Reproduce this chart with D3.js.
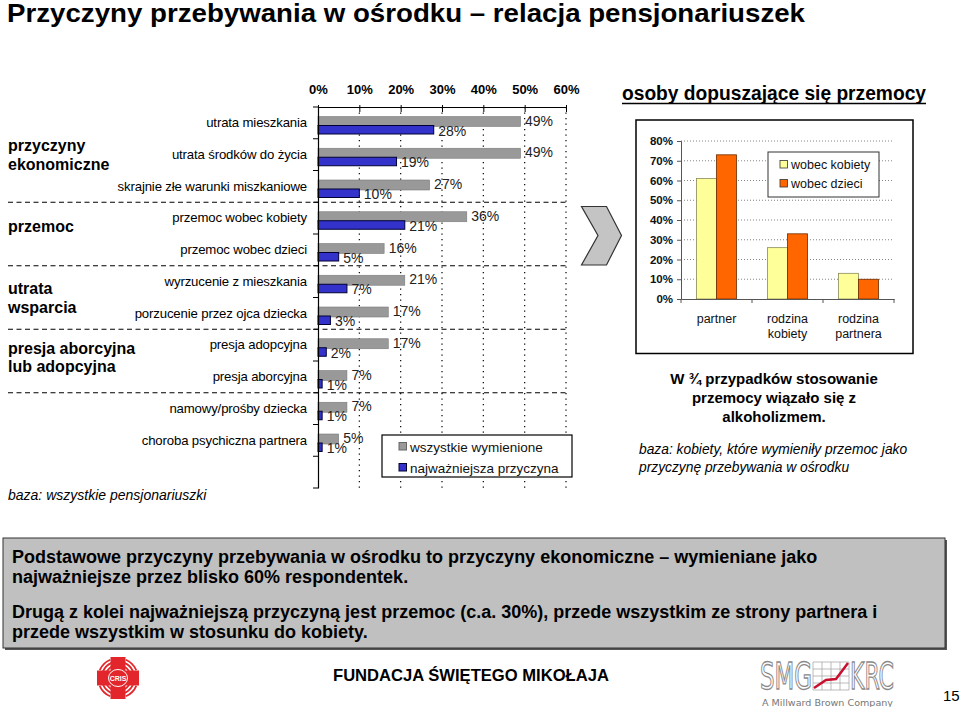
<!DOCTYPE html>
<html><head><meta charset="utf-8">
<script src="https://cdn.jsdelivr.net/npm/d3@7"></script>
<style>
html,body{margin:0;padding:0;background:#fff;}
svg{display:block;font-family:"Liberation Sans",Arial,sans-serif;}
</style></head>
<body>
<svg id="c" width="960" height="707"></svg>
<script>
// ---------- data ----------
const categories = [
  "utrata mieszkania",
  "utrata środków do życia",
  "skrajnie złe warunki miszkaniowe",
  "przemoc wobec kobiety",
  "przemoc wobec dzieci",
  "wyrzucenie z mieszkania",
  "porzucenie przez ojca dziecka",
  "presja adopcyjna",
  "presja aborcyjna",
  "namowy/prośby dziecka",
  "choroba psychiczna partnera"
];
const allMentioned  = [49, 49, 27, 36, 16, 21, 17, 17, 7, 7, 5];
const mostImportant = [28, 19, 10, 21, 5, 7, 3, 2, 1, 1, 1];
const xTicks = [0, 10, 20, 30, 40, 50, 60];
const seriesNames = ["wszystkie wymienione", "najważniejsza przyczyna"];

const groupNames = [["przyczyny", "ekonomiczne"], ["przemoc"], ["utrata", "wsparcia"], ["presja aborcyjna", "lub adopcyjna"]];
const groupStart = [0, 3, 5, 7];
const groupEnd   = [2, 4, 6, 8];
const separatorsBefore = [3, 5, 7, 9];

const perpetrators = ["partner", "rodzina kobiety", "rodzina partnera"];
const towardsWomen = [61, 26, 13];
const towardsChildren = [73, 33, 10];
const rSeries = ["wobec kobiety", "wobec dzieci"];
const rTicks = [0, 10, 20, 30, 40, 50, 60, 70, 80];

// ---------- drawing ----------
const svg = d3.select("#c");
const F = '"Liberation Sans",Arial,sans-serif';

// title
svg.append("text").attr("x", 7).attr("y", 21.5)
  .attr("font-size", 25).attr("font-weight", "bold").attr("fill", "#000")
  .attr("textLength", 798).attr("lengthAdjust", "spacingAndGlyphs")
  .text("Przyczyny przebywania w ośrodku – relacja pensjonariuszek");

// main chart scales
const x = d3.scaleLinear().domain([0, 60]).range([318, 566]);
const y = d3.scaleBand().domain(categories.concat([" "])).range([107, 488]);
const bw = y.bandwidth();

const g = svg.append("g");

// dotted gridlines
g.selectAll("line.grid").data(xTicks.slice(1)).join("line")
  .attr("x1", d => x(d)).attr("x2", d => x(d))
  .attr("y1", 107).attr("y2", 488)
  .attr("stroke", "#000").attr("stroke-width", 1.2).attr("stroke-dasharray", "1.3,4.2");

// separators (dashed)
g.selectAll("line.sep").data(separatorsBefore).join("line")
  .attr("x1", 8).attr("x2", 567)
  .attr("y1", d => y(categories[d])).attr("y2", d => y(categories[d]))
  .attr("stroke", "#000").attr("stroke-width", 1.1).attr("stroke-dasharray", "5,3.5");

// bars
const rows = categories.map((c, i) => ({c, a: allMentioned[i], m: mostImportant[i]}));
g.selectAll("rect.a").data(rows).join("rect")
  .attr("x", x(0)).attr("y", d => y(d.c) + 9.5)
  .attr("width", d => x(d.a) - x(0)).attr("height", 10)
  .attr("fill", "#999999").attr("stroke", "#7a7a7a").attr("stroke-width", 0.6);
g.selectAll("rect.m").data(rows).join("rect")
  .attr("x", x(0)).attr("y", d => y(d.c) + 18.5)
  .attr("width", d => x(d.m) - x(0)).attr("height", 8.5)
  .attr("fill", "#3333cc").attr("stroke", "#000033").attr("stroke-width", 1);

// value labels
g.selectAll("text.a").data(rows).join("text")
  .attr("x", d => x(d.a) + 4.5).attr("y", d => y(d.c) + 18.5)
  .attr("font-size", 14).attr("fill", "#222").text(d => d.a + "%");
g.selectAll("text.m").data(rows).join("text")
  .attr("x", d => x(d.m) + 4.5).attr("y", d => y(d.c) + 28.5)
  .attr("font-size", 14).attr("fill", "#222").text(d => d.m + "%");

// top axis
const xAxis = d3.axisTop(x).tickValues(xTicks).tickFormat(d => d + "%")
  .tickSizeInner(-5).tickSizeOuter(0).tickPadding(13);
const xa = svg.append("g").attr("transform", "translate(0,107)").call(xAxis);
xa.select(".domain").attr("stroke", "#000").attr("stroke-width", 1.2);
xa.selectAll(".tick line").attr("stroke", "#000").attr("y1", -2);
xa.selectAll(".tick text").attr("font-size", 13).attr("font-weight", "bold")
  .attr("font-family", F).attr("fill", "#000");

// left axis: labels
const yAxis = d3.axisLeft(y).tickSize(0).tickPadding(11);
const ya = svg.append("g").attr("transform", "translate(318,0)").call(yAxis);
ya.select(".domain").attr("stroke", "#000").attr("stroke-width", 1.2);
ya.selectAll(".tick text").attr("font-size", 13.2).attr("font-family", F)
  .attr("fill", "#000").attr("letter-spacing", -0.15);
// boundary ticks
const bounds = categories.concat([" "]).map(c => y(c)).concat([y.range()[1]]);
svg.selectAll("line.bt").data(bounds).join("line")
  .attr("x1", 313).attr("x2", 318).attr("y1", d => d).attr("y2", d => d)
  .attr("stroke", "#000").attr("stroke-width", 1);

// group labels
const groupDy = [0, -8, 0, -4];
groupNames.forEach((lines, gi) => {
  const top = y(categories[groupStart[gi]]);
  const bot = y(categories[groupEnd[gi]]) + bw;
  const cy = (top + bot) / 2 + groupDy[gi];
  const t = svg.append("text").attr("x", 8).attr("font-size", 16)
    .attr("font-weight", "bold").attr("fill", "#000");
  lines.forEach((ln, li) => {
    t.append("tspan").attr("x", 8)
      .attr("y", cy + 6 + (li - (lines.length - 1) / 2) * 18.5).text(ln);
  });
});

svg.append("text").attr("x", 8).attr("y", 500).attr("font-size", 14)
  .attr("font-style", "italic").attr("fill", "#000")
  .text("baza: wszystkie pensjonariuszki");

// legend main
const lg = svg.append("g");
lg.append("rect").attr("x", 382).attr("y", 435).attr("width", 190).attr("height", 42)
  .attr("fill", "#fff").attr("stroke", "#000").attr("stroke-width", 1.2);
const lcol = [["#999999", "#666"], ["#3333cc", "#000033"]];
seriesNames.forEach((s, i) => {
  lg.append("rect").attr("x", 399).attr("y", 442.5 + i * 21).attr("width", 7.5).attr("height", 7.5)
    .attr("fill", lcol[i][0]).attr("stroke", lcol[i][1]).attr("stroke-width", 1);
  lg.append("text").attr("x", 410).attr("y", 451.5 + i * 21).attr("font-size", 13.5)
    .attr("fill", "#111").text(s);
});

// chevron
svg.append("polygon")
  .attr("points", "581.5,206.5 606.5,206.5 621.5,235.5 606.5,265 581.5,265 598,235.5")
  .attr("fill", "#c4c4c4").attr("stroke", "#333").attr("stroke-width", 1.2);

// ---------- right chart ----------
svg.append("text").attr("x", 622).attr("y", 100).attr("font-size", 19.5)
  .attr("font-weight", "bold").attr("fill", "#000")
  .attr("textLength", 304).attr("lengthAdjust", "spacingAndGlyphs")
  .text("osoby dopuszające się przemocy");
svg.append("line").attr("x1", 622).attr("x2", 926).attr("y1", 103.5).attr("y2", 103.5)
  .attr("stroke", "#000").attr("stroke-width", 1.5);

svg.append("rect").attr("x", 636).attr("y", 120).attr("width", 277).attr("height", 233.5)
  .attr("fill", "#fff").attr("stroke", "#000").attr("stroke-width", 1.5);

const yR = d3.scaleLinear().domain([0, 80]).range([299, 141]);
const xR = d3.scaleBand().domain(perpetrators).range([681, 894]);
const xS = d3.scaleBand().domain(rSeries).range([0, xR.bandwidth()]).paddingOuter(0.775);

svg.selectAll("line.rg").data(rTicks.slice(1)).join("line")
  .attr("x1", 681).attr("x2", 894).attr("y1", d => yR(d)).attr("y2", d => yR(d))
  .attr("stroke", "#777").attr("stroke-width", 0.9).attr("stroke-dasharray", "1,2");

const rdata = perpetrators.map((p, i) => ({p, v: [towardsWomen[i], towardsChildren[i]]}));
const rcol = [["#ffff99", "#8a8a5a"], ["#ff6600", "#6a2a00"]];
rdata.forEach(d => {
  rSeries.forEach((s, si) => {
    svg.append("rect").attr("x", xR(d.p) + xS(s)).attr("y", yR(d.v[si]))
      .attr("width", xS.bandwidth()).attr("height", yR(0) - yR(d.v[si]))
      .attr("fill", rcol[si][0]).attr("stroke", rcol[si][1]).attr("stroke-width", 0.8);
  });
});

const yRA = d3.axisLeft(yR).tickValues(rTicks).tickFormat(d => d + "%").tickSize(4).tickPadding(4);
const yra = svg.append("g").attr("transform", "translate(681,0)").call(yRA);
yra.select(".domain").attr("stroke", "#555").attr("stroke-width", 1);
yra.selectAll(".tick line").attr("stroke", "#555");
yra.selectAll(".tick text").attr("font-size", 11.5).attr("font-weight", "bold")
  .attr("font-family", F).attr("fill", "#111");

const xRA = d3.axisBottom(xR).tickSize(0).tickFormat("");
const xra = svg.append("g").attr("transform", "translate(0,299)").call(xRA);
xra.select(".domain").attr("stroke", "#555").attr("stroke-width", 1);
const rb = perpetrators.map(p => xR(p)).concat([xR.range()[1]]);
svg.selectAll("line.rbt").data(rb).join("line")
  .attr("x1", d => d).attr("x2", d => d).attr("y1", 299).attr("y2", 303)
  .attr("stroke", "#555");

perpetrators.forEach(p => {
  const words = p.split(" ");
  const t = svg.append("text").attr("text-anchor", "middle").attr("font-size", 12.5).attr("fill", "#111");
  words.forEach((w, i) => t.append("tspan").attr("x", xR(p) + xR.bandwidth() / 2)
    .attr("y", 322.5 + i * 15.5).text(w));
});

// right legend
svg.append("rect").attr("x", 768).attr("y", 152).attr("width", 111).attr("height", 45)
  .attr("fill", "#fff").attr("stroke", "#333").attr("stroke-width", 1);
rSeries.forEach((s, i) => {
  svg.append("rect").attr("x", 780).attr("y", 160.5 + i * 19).attr("width", 7.5).attr("height", 7.5)
    .attr("fill", rcol[i][0]).attr("stroke", "#333").attr("stroke-width", 0.8);
  svg.append("text").attr("x", 791).attr("y", 168.5 + i * 19).attr("font-size", 12.5)
    .attr("fill", "#111").text(s);
});

// right text
const rt = svg.append("text").attr("text-anchor", "middle").attr("font-size", 15)
  .attr("font-weight", "bold").attr("fill", "#000");
["W ¾ przypadków stosowanie", "przemocy wiązało się z", "alkoholizmem."].forEach((l, i) =>
  rt.append("tspan").attr("x", 774).attr("y", 383.5 + i * 19).text(l));
const rt2 = svg.append("text").attr("font-size", 13.8).attr("font-style", "italic").attr("fill", "#000");
["baza: kobiety, które wymieniły przemoc jako", "przyczynę przebywania w ośrodku"].forEach((l, i) =>
  rt2.append("tspan").attr("x", 639).attr("y", 454 + i * 17.5).text(l));

// ---------- bottom box ----------
svg.append("rect").attr("x", 5).attr("y", 540).attr("width", 942).attr("height", 110).attr("fill", "#555");
svg.append("rect").attr("x", 3).attr("y", 538).attr("width", 942).attr("height", 110)
  .attr("fill", "#c0c0c0").attr("stroke", "#333").attr("stroke-width", 1);
const bt = svg.append("text").attr("font-size", 18).attr("font-weight", "bold").attr("fill", "#000");
[["Podstawowe przyczyny przebywania w ośrodku to przyczyny ekonomiczne – wymieniane jako", 562.5],
 ["najważniejsze przez blisko 60% respondentek.", 582.5],
 ["Drugą z kolei najważniejszą przyczyną jest przemoc (c.a. 30%), przede wszystkim ze strony partnera i", 618],
 ["przede wszystkim w stosunku do kobiety.", 638]].forEach(([l, yy]) =>
  bt.append("tspan").attr("x", 12).attr("y", yy).text(l));

// ---------- footer ----------
svg.append("text").attr("x", 333).attr("y", 681).attr("font-size", 16.6).attr("font-weight", "bold")
  .attr("fill", "#000").text("FUNDACJA ŚWIĘTEGO MIKOŁAJA");
svg.append("text").attr("x", 943).attr("y", 701).attr("font-size", 15).attr("fill", "#000").text("15");

// caritas-like logo
const cl = svg.append("g").attr("transform", "translate(118,678)");
cl.append("path").attr("d", "M-7.5,-21 H7.5 V-7.5 H21 V7.5 H7.5 V21 H-7.5 V7.5 H-21 V-7.5 H-7.5 Z").attr("fill", "#e3262b");
[[1, 1], [1, -1], [-1, 1], [-1, -1]].forEach(([sx, sy]) => {
  [12, 15.5, 19].forEach(r => {
    cl.append("path").attr("d", d3.arc()({innerRadius: r, outerRadius: r + 1.8,
      startAngle: Math.atan2(sx, -sy) - 0.38, endAngle: Math.atan2(sx, -sy) + 0.38}))
      .attr("fill", "#e3262b");
  });
});
cl.append("ellipse").attr("rx", 9.5).attr("ry", 8.5).attr("fill", "#e3262b").attr("stroke", "#fff").attr("stroke-width", 1);
cl.append("text").attr("text-anchor", "middle").attr("y", 3).attr("font-size", 7).attr("fill", "#fff")
  .attr("font-weight", "bold").text("CRIS");

// SMG KRC logo
const sl = svg.append("g");
sl.append("text").attr("transform", "translate(760,689) scale(1,1.45)").attr("font-size", 26)
  .attr("font-family", '"Liberation Sans Narrow","DejaVu Sans Condensed",sans-serif')
  .attr("textLength", 52).attr("lengthAdjust", "spacingAndGlyphs")
  .attr("fill", "#fff").attr("stroke", "#8a8a8a").attr("stroke-width", 0.9).text("SMG");
sl.append("text").attr("transform", "translate(850,689) scale(1,1.45)").attr("font-size", 26)
  .attr("font-family", '"Liberation Sans Narrow","DejaVu Sans Condensed",sans-serif')
  .attr("textLength", 44).attr("lengthAdjust", "spacingAndGlyphs")
  .attr("fill", "#fff").attr("stroke", "#8a8a8a").attr("stroke-width", 0.9).text("KRC");
for (let i = 0; i <= 4; i++) {
  sl.append("line").attr("x1", 813 + i * 9).attr("x2", 813 + i * 9).attr("y1", 662).attr("y2", 690).attr("stroke", "#aaa").attr("stroke-width", 0.8);
  sl.append("line").attr("x1", 813).attr("x2", 849).attr("y1", 662 + i * 7).attr("y2", 662 + i * 7).attr("stroke", "#aaa").attr("stroke-width", 0.8);
}
sl.append("path").attr("d", "M814,688 L826,680 L836,679 L848,663").attr("fill", "none").attr("stroke", "#c8102e").attr("stroke-width", 2.5);
sl.append("text").attr("x", 762).attr("y", 705.5).attr("font-size", 8.5).attr("font-family", '"DejaVu Sans",sans-serif')
  .attr("fill", "#777").attr("textLength", 131).attr("lengthAdjust", "spacingAndGlyphs").text("A Millward Brown Company");
</script>
</body></html>
